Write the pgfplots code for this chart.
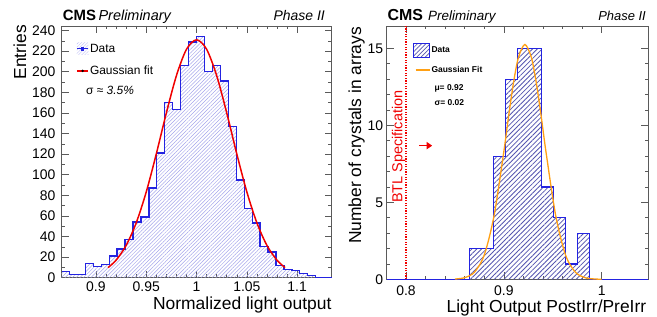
\documentclass[border=0pt]{standalone}
\usepackage{fontspec}
\setmainfont{Liberation Sans}
\usepackage{pgfplots}
\pgfplotsset{compat=1.18}
\usetikzlibrary{patterns.meta,arrows.meta}
\definecolor{histblue}{RGB}{35,35,225}
\definecolor{lhatch}{RGB}{165,165,235}
\definecolor{lhatchlight}{RGB}{190,190,245}
\definecolor{rhatch}{RGB}{85,85,175}
\definecolor{fitorange}{RGB}{255,160,20}
\definecolor{fitred}{RGB}{240,0,0}
\definecolor{frame}{RGB}{90,90,90}
\pgfplotsset{
  rootstyle/.style={
    scale only axis,
    anchor=south west,
    axis line style={frame, line width=0.8bp},
    every tick/.style={frame, line width=0.6bp},
    tick align=inside,
    tick pos=both,
    major tick length=7bp,
    minor tick length=3.5bp,
    /pgf/number format/assume math mode=true,
    clip=false,
  }
}
\begin{document}
\begin{tikzpicture}
\useasboundingbox (0,0) rectangle (657bp,317bp);
% ---------------- left panel ----------------
\begin{axis}[rootstyle,
  at={(61.5bp,39.3bp)},
  width=270.1bp, height=251.7bp,
  xmin=0.86579, xmax=1.13421, ymin=0, ymax=244.4,
  xtick={0.9,0.95,1,1.05,1.1},
  xticklabels={0.9,0.95,1,1.05,1.1},
  ytick={0,20,40,60,80,100,120,140,160,180,200,220,240},
  minor x tick num=4, minor y tick num=1,
  xticklabel style={font=\fontsize{14}{14}\selectfont, inner sep=0pt, anchor=north, yshift=-4bp},
  yticklabel style={font=\fontsize{14}{14}\selectfont, inner sep=0pt, anchor=east, xshift=-6bp},
  legend style={at={(rel axis cs:0.0537,0.934)}, anchor=north west, draw=none, fill=none,
    inner sep=0pt, font=\fontsize{12}{12}\selectfont, row sep=10bp,
    nodes={inner sep=1bp}},
  legend cell align=left,
]
\addplot[const plot mark left, draw=none, pattern={Lines[angle=45,distance=2.6bp,line width=0.5bp]}, pattern color=lhatch, forget plot]
coordinates {(0.86579,6) (0.87368,3) (0.88158,3) (0.88947,14) (0.89737,11) (0.90526,13) (0.91316,21) (0.92105,28) (0.92895,37) (0.93684,54) (0.94474,59) (0.95263,87) (0.96053,121) (0.96842,170) (0.97632,163) (0.98421,206) (0.99211,229) (1.00000,234) (1.00789,200) (1.01579,206) (1.02368,191) (1.03158,147) (1.03947,95) (1.04737,67) (1.05526,53) (1.06316,30) (1.07105,25) (1.07895,12) (1.08684,8) (1.09474,7) (1.10263,4) (1.11053,2) (1.11842,0) (1.13421,0)} \closedcycle;
\addplot[const plot mark left, histblue, line width=1.3bp,
  legend image code/.code={
    \fill[draw=none, pattern={Lines[angle=45,distance=2.2bp,line width=0.4bp]}, pattern color=lhatchlight] (0bp,-6bp) rectangle (11.3bp,6bp);
    \draw[histblue, line width=1.2bp] (0bp,0bp) -- (11.3bp,0bp);
    \fill[histblue, draw=none] (3.9bp,-1.8bp) rectangle (7.5bp,1.8bp);}]
coordinates {(0.86579,6) (0.87368,3) (0.88158,3) (0.88947,14) (0.89737,11) (0.90526,13) (0.91316,21) (0.92105,28) (0.92895,37) (0.93684,54) (0.94474,59) (0.95263,87) (0.96053,121) (0.96842,170) (0.97632,163) (0.98421,206) (0.99211,229) (1.00000,234) (1.00789,200) (1.01579,206) (1.02368,191) (1.03158,147) (1.03947,95) (1.04737,67) (1.05526,53) (1.06316,30) (1.07105,25) (1.07895,12) (1.08684,8) (1.09474,7) (1.10263,4) (1.11053,2) (1.11842,0) (1.13421,0)};
\addlegendentry{Data}
\addplot[smooth, fitred, line width=1.5bp,
  legend image code/.code={
    \draw[draw=fitred, line width=1.5bp] (0bp,0bp) -- (11.3bp,0bp);
    \fill[black, draw=none] (5.65bp,0bp) circle (1.3bp);}]
coordinates {(0.912,9.79) (0.92,16.95) (0.93,31.26) (0.94,53.16) (0.95,83.25) (0.96,120.2) (0.97,160.0) (0.98,196.2) (0.99,221.8) (1.0,231) (1.01,221.8) (1.02,196.2) (1.03,160.0) (1.04,120.2) (1.05,83.25) (1.06,53.16) (1.07,31.26) (1.08,16.95) (1.088,9.79)};
\addlegendentry{Gaussian fit}
\node[anchor=west, inner sep=0pt, font=\fontsize{12}{12}\selectfont] at (axis cs:0.8901,182.2) {σ ≈ \textit{3.5\%}};
\node[anchor=base west, inner sep=0pt, xshift=1.2bp, yshift=5.3bp] at (rel axis cs:0,1)
  {\fontsize{15}{15}\selectfont\bfseries CMS\,\fontsize{14.5}{15}\mdseries\itshape Preliminary};
\node[anchor=base east, inner sep=0pt, xshift=-6.6bp, yshift=5.3bp, font=\fontsize{14}{14}\selectfont\itshape] at (rel axis cs:1,1) {Phase II};
\node[rotate=90, anchor=north east, inner sep=0pt, xshift=1bp, yshift=48.2bp, font=\fontsize{17.5}{17.5}\selectfont] at (rel axis cs:0,1) {Entries};
\node[anchor=north east, inner sep=0pt, yshift=-18.5bp, font=\fontsize{17.5}{17.5}\selectfont] at (rel axis cs:1,0) {Normalized light output};
\end{axis}
% ---------------- right panel ----------------
\begin{axis}[rootstyle,
  at={(386.7bp,37.7bp)},
  width=261.3bp, height=253.3bp,
  xmin=0.7803, xmax=1.0473, ymin=0, ymax=16.45,
  xtick={0.8,0.9,1}, xticklabels={0.8,0.9,1},
  ytick={0,5,10,15},
  minor x tick num=4, minor y tick num=4,
  xticklabel style={font=\fontsize{14}{14}\selectfont, inner sep=0pt, anchor=north, yshift=-6.5bp},
  yticklabel style={font=\fontsize{14}{14}\selectfont, inner sep=0pt, anchor=east, xshift=-3.4bp},
  legend style={at={(rel axis cs:0.1018,0.934)}, anchor=north west, draw=none, fill=none,
    inner sep=0pt, font=\fontsize{8.5}{8.5}\selectfont\bfseries, row sep=7bp,
    nodes={inner sep=1bp}},
  legend cell align=left,
]
\addplot[const plot mark left, draw=none, pattern={Lines[angle=45,distance=3.4bp,line width=0.8bp]}, pattern color=rhatch, forget plot]
coordinates {(0.8647,2) (0.8770,2) (0.8892,8) (0.9015,13) (0.9138,15) (0.9260,15) (0.9383,6) (0.9506,4) (0.9629,1) (0.9751,3) (0.9874,0)} \closedcycle;
\addplot[draw=fitred, line width=1.3bp, dash pattern=on 1.3bp off 1.3bp, forget plot] coordinates {(0.8,0) (0.8,16.45)};
\addplot[const plot mark left, histblue, line width=1.2bp,
  legend image code/.code={
    \draw[histblue, line width=1bp, pattern={Lines[angle=45,distance=3bp,line width=0.7bp]}, pattern color=rhatch] (0bp,-7.3bp) rectangle (16bp,7.3bp);}]
coordinates {(0.7803,0) (0.8647,2) (0.8770,2) (0.8892,8) (0.9015,13) (0.9138,15) (0.9260,15) (0.9383,6) (0.9506,4) (0.9629,1) (0.9751,3) (0.9874,0) (1.0473,0)};
\addlegendentry{Data}
\addplot[smooth, fitorange, line width=1.3bp,
  legend image code/.code={
    \draw[fitorange, line width=1.3bp] (1.7bp,0bp) -- (16bp,0bp);}]
coordinates {(0.850,0.018) (0.860,0.106) (0.870,0.467) (0.880,1.583) (0.890,4.136) (0.900,8.30) (0.905,10.66) (0.910,12.82) (0.915,14.43) (0.9215,15.25) (0.928,14.43) (0.933,12.82) (0.938,10.66) (0.943,8.30) (0.953,4.136) (0.963,1.583) (0.973,0.467) (0.983,0.106) (0.993,0.018) (1.000,0.005)};
\addlegendentry{Gaussian Fit}
\addplot[draw=fitred, line width=1.4bp, -{Triangle[length=5.5bp,width=7bp]}, forget plot] coordinates {(0.8135,8.68) (0.8268,8.68)};
\node[rotate=90, anchor=base west, inner sep=0pt, text=fitred, font=\fontsize{14.5}{14.5}\selectfont] at (axis cs:0.7962,4.95) {BTL Specification};
\node[anchor=west, inner sep=0pt, font=\fontsize{8.5}{8.5}\selectfont\bfseries] at (axis cs:0.8290,12.42) {μ= 0.92};
\node[anchor=west, inner sep=0pt, font=\fontsize{8.5}{8.5}\selectfont\bfseries] at (axis cs:0.8290,11.45) {σ= 0.02};
\node[anchor=base west, inner sep=0pt, xshift=0.6bp, yshift=5.3bp] at (rel axis cs:0,1)
  {\fontsize{16}{16}\selectfont\bfseries CMS\,\,\fontsize{13.5}{15}\mdseries\itshape Preliminary};
\node[anchor=base east, inner sep=0pt, xshift=-2bp, yshift=5.3bp, font=\fontsize{13}{13}\selectfont\itshape] at (rel axis cs:1,1) {Phase II};
\node[rotate=90, anchor=north east, inner sep=0pt, xshift=-0.7bp, yshift=38.4bp, font=\fontsize{17.5}{17.5}\selectfont] at (rel axis cs:0,1) {Number of crystals in arrays};
\node[anchor=north east, inner sep=0pt, xshift=-1.6bp, yshift=-20bp, font=\fontsize{17.5}{17.5}\selectfont] at (rel axis cs:1,0) {Light Output PostIrr/PreIrr};
\end{axis}
\end{tikzpicture}
\end{document}
